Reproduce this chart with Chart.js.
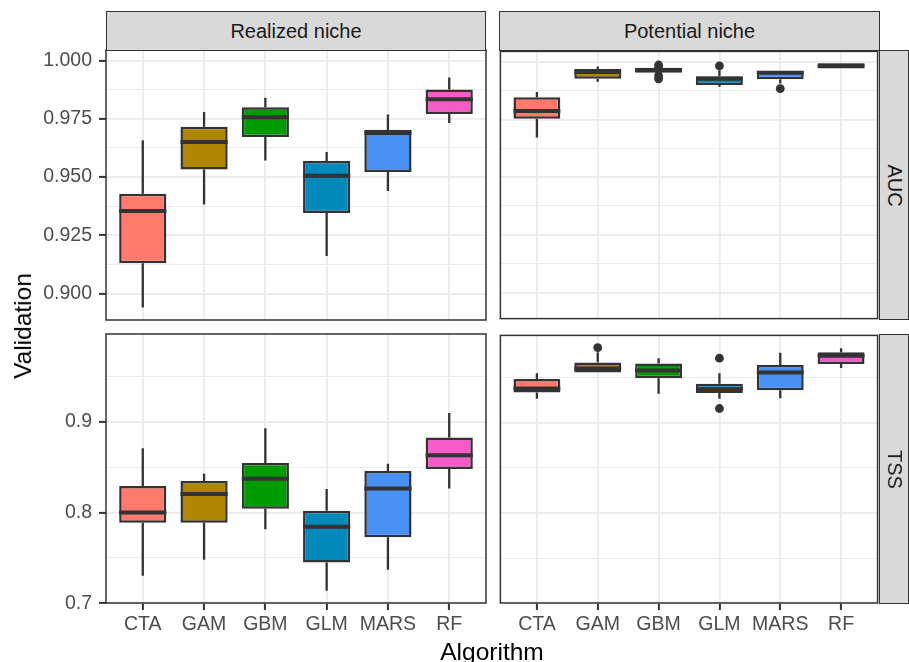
<!DOCTYPE html>
<html>
<head>
<meta charset="utf-8">
<script src="https://cdn.jsdelivr.net/npm/chart.js@4.4.1/dist/chart.umd.min.js"></script>
<style>
  body { margin: 0; background: #fff; font-family: "Liberation Sans", Arial, sans-serif; }
  #wrap { position: relative; width: 909px; height: 662px; overflow: hidden; background: #fff; }
  canvas, .strip, .title { position: absolute; }
  .strip { box-sizing: border-box; background: #d9d9d9; border: 1.5px solid #333; color: #1a1a1a;
           font-size: 20px; display: flex; align-items: center; justify-content: center; }
  .strip.side span { transform: rotate(90deg); white-space: nowrap; }
  .title { color: #000; font-size: 24.5px; white-space: nowrap; }
</style>
</head>
<body>
<div id="wrap">
  <canvas id="aucReal" width="489" height="276" style="left:0;top:47px"></canvas>
  <canvas id="aucPot" width="386" height="276" style="left:496px;top:47px"></canvas>
  <canvas id="tssReal" width="489" height="331" style="left:0;top:331px"></canvas>
  <canvas id="tssPot" width="386" height="331" style="left:496px;top:331px"></canvas>

  <div class="strip" style="left:106px;top:11px;width:380px;height:40px">Realized niche</div>
  <div class="strip" style="left:499px;top:11px;width:381px;height:40px">Potential niche</div>
  <div class="strip side" style="left:879px;top:50px;width:30px;height:270px"><span>AUC</span></div>
  <div class="strip side" style="left:879px;top:334px;width:30px;height:270px"><span>TSS</span></div>

  <div class="title" style="left:23px;top:326px;transform:translate(-50%,-50%) rotate(-90deg)">Validation</div>
  <div class="title" style="left:492px;top:638px;transform:translateX(-50%)">Algorithm</div>
</div>
<script>
const algorithms = ['CTA', 'GAM', 'GBM', 'GLM', 'MARS', 'RF']
const palette = ['#FF7A6C', '#B08600', '#009B00', '#0089BA', '#4990F5', '#F55CC8']

// each row: [lower whisker, Q1, median, Q3, upper whisker]
const aucRealized = [
  [0.8941, 0.9130, 0.9354, 0.9429, 0.9658],
  [0.9382, 0.9533, 0.9650, 0.9716, 0.9779],
  [0.9571, 0.9672, 0.9757, 0.9799, 0.9840],
  [0.9161, 0.9346, 0.9506, 0.9569, 0.9607],
  [0.9440, 0.9522, 0.9689, 0.9702, 0.9768],
  [0.9732, 0.9770, 0.9834, 0.9876, 0.9927]
]
const aucPotential = [
  [0.9672, 0.9753, 0.9787, 0.9846, 0.9869],
  [0.9913, 0.9927, 0.9956, 0.9969, 0.9980],
  [0.9952, 0.9952, 0.9964, 0.9974, 0.9974],
  [0.9892, 0.9899, 0.9927, 0.9937, 0.9963],
  [0.9906, 0.9924, 0.9952, 0.9960, 0.9960],
  [0.9971, 0.9971, 0.9983, 0.9994, 0.9994]
]
const tssRealized = [
  [0.7302, 0.7886, 0.8000, 0.8291, 0.8708],
  [0.7478, 0.7886, 0.8204, 0.8346, 0.8427],
  [0.7814, 0.8040, 0.8372, 0.8544, 0.8927],
  [0.7138, 0.7448, 0.7842, 0.8018, 0.8259],
  [0.7368, 0.7726, 0.8263, 0.8456, 0.8536],
  [0.8263, 0.8478, 0.8631, 0.8825, 0.9095]
]
const tssPotential = [
  [0.9266, 0.9333, 0.9380, 0.9485, 0.9548],
  [0.9555, 0.9555, 0.9600, 0.9668, 0.9780],
  [0.9321, 0.9493, 0.9577, 0.9657, 0.9715],
  [0.9266, 0.9329, 0.9369, 0.9431, 0.9548],
  [0.9270, 0.9358, 0.9555, 0.9639, 0.9774],
  [0.9606, 0.9650, 0.9741, 0.9781, 0.9825]
]

// outliers: [algorithm, value]
const aucRealizedOut = []
const aucPotentialOut = [['GBM', 0.9986], ['GBM', 0.9972], ['GBM', 0.9940], ['GBM', 0.9926], ['GLM', 0.9982], ['MARS', 0.9884]]
const tssRealizedOut = []
const tssPotentialOut = [['GAM', 0.9832], ['GLM', 0.9715], ['GLM', 0.9157]]

// y ranges and tick labels ('' = minor grid line)
const aucRange = [0.8887, 1.0045]
const aucTicks = [0.9, 0.9125, 0.925, 0.9375, 0.95, 0.9625, 0.975, 0.9875, 1.0]
const aucLabels = ['0.900', '', '0.925', '', '0.950', '', '0.975', '', '1.000']
const tssRange = [0.7002, 0.9967]
const tssTicks = [0.7, 0.75, 0.8, 0.85, 0.9, 0.95]
const tssLabels = ['0.7', '', '0.8', '', '0.9', '']

const FONT = '"Liberation Sans", Arial, sans-serif'

function boxPlugin(stats) {
  return {
    id: 'boxes',
    beforeDatasetsDraw(chart) {
      // whiskers
      const {ctx, scales: {x, y}} = chart
      ctx.save()
      ctx.strokeStyle = '#333'
      ctx.lineWidth = 2.3
      stats.forEach((s, i) => {
        const px = x.getPixelForValue(i + 1)
        ctx.beginPath()
        ctx.moveTo(px, y.getPixelForValue(s[0]))
        ctx.lineTo(px, y.getPixelForValue(s[1]))
        ctx.moveTo(px, y.getPixelForValue(s[3]))
        ctx.lineTo(px, y.getPixelForValue(s[4]))
        ctx.stroke()
      })
      ctx.restore()
    },
    afterDatasetsDraw(chart) {
      // medians + panel border
      const {ctx, chartArea: a, scales: {y}} = chart
      const bars = chart.getDatasetMeta(0).data
      ctx.save()
      ctx.strokeStyle = '#333'
      ctx.lineWidth = 4
      stats.forEach((s, i) => {
        const el = bars[i]
        const py = y.getPixelForValue(s[2])
        ctx.beginPath()
        ctx.moveTo(el.x - el.width / 2, py)
        ctx.lineTo(el.x + el.width / 2, py)
        ctx.stroke()
      })
      ctx.lineWidth = 1.5
      ctx.strokeRect(a.left, a.top, a.right - a.left, a.bottom - a.top)
      ctx.restore()
    }
  }
}

function makePanel(id, stats, outliers, range, ticks, labels, showY, showX) {
  const canvas = document.getElementById(id)
  new Chart(canvas, {
    type: 'bar',
    data: {
      datasets: [{
        data: stats.map((s, i) => ({x: i + 1, y: [s[1], s[3]]})),
        backgroundColor: palette,
        borderColor: '#333',
        borderWidth: 2.5,
        borderSkipped: false,
        barPercentage: 0.77,
        categoryPercentage: 1,
        order: 2
      }, {
        type: 'scatter',
        data: outliers.map(o => ({x: algorithms.indexOf(o[0]) + 1, y: o[1]})),
        pointRadius: 4.4,
        backgroundColor: '#333',
        borderWidth: 0,
        order: 1
      }]
    },
    options: {
      responsive: false,
      animation: false,
      events: [],
      layout: {padding: {top: 3, right: 3, bottom: showX ? 0 : 3, left: showY ? 0 : 3}},
      plugins: {legend: {display: false}, tooltip: {enabled: false}},
      scales: {
        x: {
          type: 'linear', min: 0.4, max: 6.6, offset: false,
          afterBuildTicks: s => { s.ticks = algorithms.map((a, i) => ({value: i + 1})) },
          afterFit: s => { s.height = showX ? 59 : 0; s.paddingLeft = 0; s.paddingRight = 0 },
          border: {display: false},
          grid: {offset: false, color: '#EBEBEB', lineWidth: 1.8, drawTicks: showX, tickLength: 7, tickColor: '#333', tickWidth: 2},
          ticks: {display: showX, autoSkip: false, maxRotation: 0, padding: 3, color: '#4D4D4D',
                  font: {family: FONT, size: 19.5}, callback: v => algorithms[v - 1]}
        },
        y: {
          min: range[0], max: range[1],
          afterBuildTicks: s => { s.ticks = ticks.map(v => ({value: v})) },
          afterFit: s => { s.width = showY ? 106 : 0; s.paddingTop = 0; s.paddingBottom = 0 },
          border: {display: false},
          grid: {
            color: '#EBEBEB',
            lineWidth: c => labels[c.index] ? 1.8 : 1,
            drawTicks: showY, tickLength: 7, tickWidth: 2,
            tickColor: c => labels[c.index] ? '#333' : 'rgba(0,0,0,0)'
          },
          ticks: {display: showY, padding: 7, color: '#4D4D4D', font: {family: FONT, size: 19.5},
                  callback: (v, i) => labels[i]}
        }
      }
    },
    plugins: [boxPlugin(stats)]
  })
}

makePanel('aucReal', aucRealized, aucRealizedOut, aucRange, aucTicks, aucLabels, true, false)
makePanel('aucPot', aucPotential, aucPotentialOut, aucRange, aucTicks, aucLabels, false, false)
makePanel('tssReal', tssRealized, tssRealizedOut, tssRange, tssTicks, tssLabels, true, true)
makePanel('tssPot', tssPotential, tssPotentialOut, tssRange, tssTicks, tssLabels, false, true)
</script>
</body>
</html>
